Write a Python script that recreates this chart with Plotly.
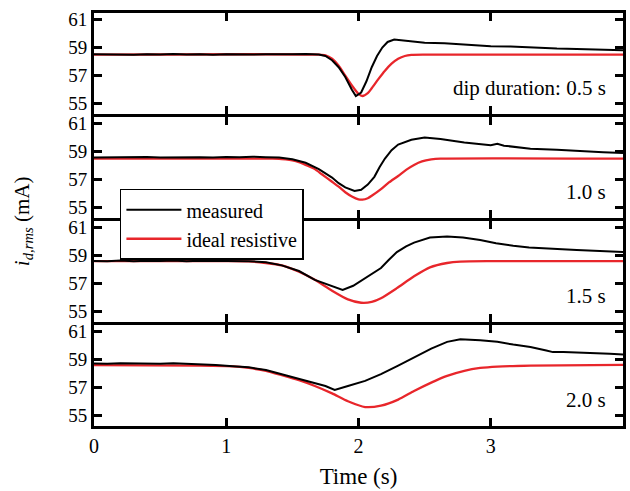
import plotly.graph_objects as go
from plotly.subplots import make_subplots

FONT = "Liberation Serif"
RED = "#e8262b"

# ---- data ----
panel_labels = ["dip duration: 0.5 s", "1.0 s", "1.5 s", "2.0 s"]

meas_t1 = [0, 0.1, 0.2, 0.3, 0.4, 0.5, 0.6, 0.7, 0.8, 0.9, 1.0, 1.1, 1.2, 1.3, 1.4, 1.5, 1.6, 1.7,
           1.75, 1.8, 1.85, 1.9, 1.95, 1.98, 2.02, 2.06, 2.1, 2.14, 2.18, 2.22, 2.27, 2.35, 2.5,
           2.65, 2.8, 3.0, 3.15, 3.3, 3.5, 3.65, 3.8, 3.9, 4.0]
meas_v1 = [58.52, 58.5, 58.53, 58.49, 58.52, 58.5, 58.54, 58.5, 58.52, 58.49, 58.53, 58.51, 58.5,
           58.53, 58.5, 58.52, 58.54, 58.5, 58.4, 58.1, 57.6, 56.9, 56.0, 55.55, 55.8, 56.6, 57.6,
           58.4, 59.0, 59.4, 59.57, 59.5, 59.35, 59.3, 59.2, 59.1, 59.08, 59.0, 58.93, 58.9, 58.85,
           58.84, 58.8]
ideal_t1 = [0, 1.7, 1.75, 1.8, 1.85, 1.9, 1.95, 2.0, 2.03, 2.07, 2.1, 2.15, 2.2, 2.25, 2.3, 2.35,
            2.4, 2.5, 4.0]
ideal_v1 = [58.5, 58.5, 58.45, 58.2, 57.7, 57.0, 56.3, 55.7, 55.55, 55.75, 56.1, 56.75, 57.35,
            57.85, 58.2, 58.4, 58.48, 58.5, 58.5]

meas_t2 = [0, 0.1, 0.2, 0.3, 0.4, 0.5, 0.6, 0.7, 0.8, 0.9, 1.0, 1.1, 1.2, 1.3, 1.4, 1.5, 1.6, 1.7,
           1.8, 1.85, 1.9, 1.97, 2.02, 2.07, 2.12, 2.16, 2.2, 2.25, 2.3, 2.4, 2.5, 2.62, 2.8, 3.0,
           3.05, 3.1, 3.3, 3.5, 3.67, 3.85, 4.0]
meas_v2 = [58.58, 58.6, 58.57, 58.6, 58.62, 58.58, 58.6, 58.63, 58.6, 58.58, 58.62, 58.6, 58.63,
           58.6, 58.58, 58.45, 58.2, 57.75, 57.15, 56.75, 56.45, 56.2, 56.28, 56.65, 57.2, 57.9,
           58.5, 59.1, 59.5, 59.84, 60.0, 59.9, 59.65, 59.45, 59.55, 59.42, 59.2, 59.12, 59.02,
           58.95, 58.9]
ideal_t2 = [0, 1.35, 1.4, 1.45, 1.5, 1.55, 1.6, 1.67, 1.72, 1.8, 1.85, 1.9, 1.95, 2.0, 2.03, 2.07,
            2.1, 2.17, 2.23, 2.3, 2.36, 2.42, 2.48, 2.55, 2.62, 4.0]
ideal_v2 = [58.5, 58.5, 58.48, 58.45, 58.38, 58.25, 58.05, 57.75, 57.4, 56.85, 56.5, 56.1, 55.8,
            55.6, 55.58, 55.68, 55.85, 56.32, 56.8, 57.26, 57.7, 58.05, 58.3, 58.44, 58.5, 58.5]

meas_t3 = [0, 0.1, 0.2, 0.3, 0.4, 0.5, 0.6, 0.7, 0.8, 0.9, 1.0, 1.17, 1.3, 1.42, 1.55, 1.67, 1.8,
           1.88, 1.96, 2.03, 2.1, 2.17, 2.23, 2.29, 2.36, 2.42, 2.54, 2.67, 2.79, 2.92, 3.04, 3.17,
           3.29, 3.4, 3.54, 3.65, 3.79, 3.9, 4.0]
meas_v3 = [58.62, 58.6, 58.64, 58.6, 58.63, 58.61, 58.65, 58.6, 58.63, 58.6, 58.62, 58.6, 58.53,
           58.3, 57.9, 57.27, 56.85, 56.56, 56.85, 57.27, 57.68, 58.11, 58.7, 59.25, 59.65, 59.92,
           60.28, 60.35, 60.28, 60.1, 59.88, 59.69, 59.57, 59.5, 59.45, 59.4, 59.33, 59.28, 59.25]
ideal_t3 = [0, 1.0, 1.17, 1.3, 1.42, 1.55, 1.67, 1.8, 1.92, 2.02, 2.1, 2.17, 2.29, 2.42, 2.54,
            2.67, 2.77, 3.0, 4.0]
ideal_v3 = [58.6, 58.6, 58.58, 58.47, 58.3, 57.85, 57.27, 56.5, 55.88, 55.64, 55.7, 55.96, 56.68,
            57.52, 58.16, 58.47, 58.57, 58.6, 58.6]

meas_t4 = [0, 0.1, 0.2, 0.3, 0.4, 0.5, 0.6, 0.7, 0.8, 0.92, 1.05, 1.17, 1.3, 1.42, 1.55, 1.67,
           1.75, 1.82, 1.84, 1.92, 2.05, 2.17, 2.3, 2.42, 2.55, 2.67, 2.77, 2.92, 3.05, 3.17, 3.3,
           3.42, 3.47, 3.55, 3.7, 3.8, 3.9, 4.0]
meas_v4 = [58.72, 58.7, 58.74, 58.71, 58.73, 58.7, 58.74, 58.71, 58.69, 58.62, 58.52, 58.45,
           58.25, 57.96, 57.65, 57.31, 57.12, 56.83, 56.88, 57.12, 57.48, 57.96, 58.57, 59.17,
           59.78, 60.26, 60.45, 60.38, 60.26, 60.07, 59.9, 59.65, 59.53, 59.53, 59.5, 59.46,
           59.42, 59.36]
ideal_t4 = [0, 0.8, 1.05, 1.17, 1.3, 1.42, 1.55, 1.67, 1.8, 1.92, 2.05, 2.17, 2.3, 2.42, 2.55,
            2.67, 2.8, 2.92, 3.05, 3.3, 4.0]
ideal_v4 = [58.6, 58.57, 58.52, 58.4, 58.2, 57.89, 57.53, 57.12, 56.59, 56.03, 55.62, 55.72,
            56.15, 56.76, 57.36, 57.84, 58.2, 58.4, 58.5, 58.57, 58.62]

y_ticks = [55, 57, 59, 61]
x_ticks = [0, 1, 2, 3]

measured = [(meas_t1, meas_v1), (meas_t2, meas_v2), (meas_t3, meas_v3), (meas_t4, meas_v4)]
ideal = [(ideal_t1, ideal_v1), (ideal_t2, ideal_v2), (ideal_t3, ideal_v3), (ideal_t4, ideal_v4)]

PLOT_H = 491 - 13 - 65
LW = 3
fig = make_subplots(rows=4, cols=1, shared_xaxes=True, vertical_spacing=LW / PLOT_H)

for i in range(4):
    r = i + 1
    fig.add_trace(go.Scatter(x=ideal[i][0], y=ideal[i][1], mode="lines",
                             line=dict(color=RED, width=2.3, shape="spline", smoothing=0.6),
                             name="ideal resistive", showlegend=(i == 0), legendrank=2),
                  row=r, col=1)
    fig.add_trace(go.Scatter(x=measured[i][0], y=measured[i][1], mode="lines",
                             line=dict(color="black", width=2),
                             name="measured", showlegend=(i == 0), legendrank=1),
                  row=r, col=1)
    fig.update_yaxes(range=[54.27, 61.46], tickvals=y_ticks, row=r, col=1)
    xref = "x" if r == 1 else f"x{r}"
    yref = "y" if r == 1 else f"y{r}"
    fig.add_annotation(x=3.89, y=56.15, xref=xref, yref=yref, text=panel_labels[i],
                       showarrow=False, xanchor="right", yanchor="middle",
                       font=dict(family=FONT, size=21, color="black"))

fig.update_xaxes(range=[0, 4], tickvals=x_ticks,
                 ticks="inside", ticklen=8, tickwidth=2.5, tickcolor="black",
                 showline=True, linewidth=LW, linecolor="black", mirror="allticks",
                 showgrid=False, zeroline=False,
                 tickfont=dict(family=FONT, size=20, color="black"))
fig.update_yaxes(ticks="inside", ticklen=8, tickwidth=2.5, tickcolor="black",
                 showline=True, linewidth=LW, linecolor="black", mirror="allticks",
                 showgrid=False, zeroline=False,
                 tickfont=dict(family=FONT, size=19, color="black"))
fig.update_xaxes(title=dict(text="Time (s)", font=dict(family=FONT, size=23, color="black"),
                            standoff=12), row=4, col=1)

fig.add_annotation(x=-0.135, y=0.495, xref="paper", yref="paper", textangle=-90,
                   text="<i>i</i><sub><i>d,rms</i></sub> (mA)", showarrow=False,
                   xanchor="center", yanchor="middle",
                   font=dict(family=FONT, size=21, color="black"))

fig.update_layout(
    width=630, height=491,
    margin=dict(l=94, r=4, t=13, b=65),
    paper_bgcolor="white", plot_bgcolor="white",
    font=dict(family=FONT, size=20, color="black"),
    showlegend=True,
    legend=dict(x=0.049, y=0.5745, xanchor="left", yanchor="top",
                bgcolor="white", bordercolor="black", borderwidth=1.5,
                font=dict(family=FONT, size=20, color="black"),
                itemwidth=55, entrywidth=125, entrywidthmode="pixels",
                tracegroupgap=0, traceorder="normal"),
)

fig.write_html("out.html")
